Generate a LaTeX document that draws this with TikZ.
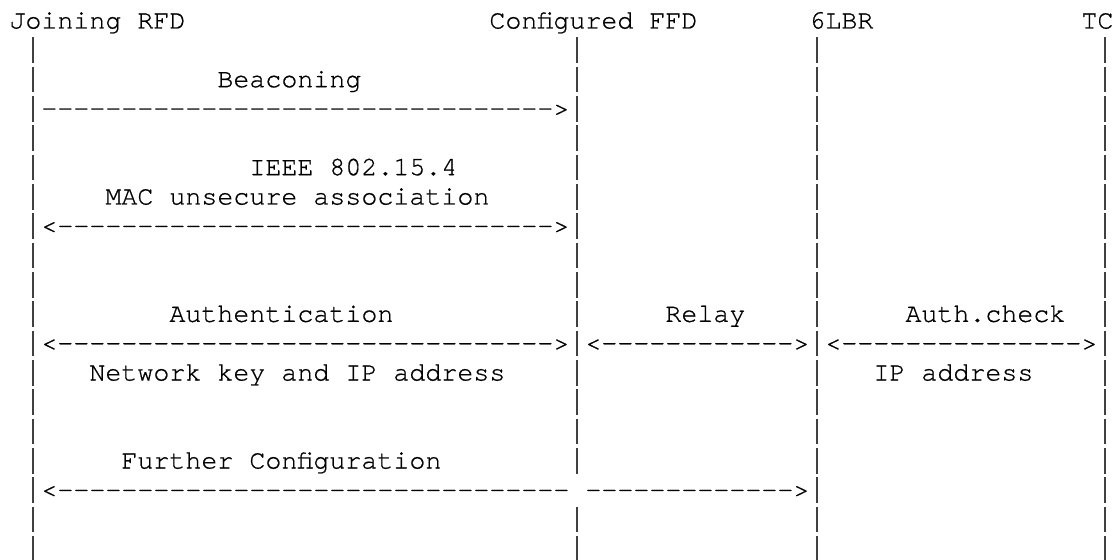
\documentclass[tikz,border=0pt]{standalone}
\usepackage{fontspec}
\setmonofont{TeX Gyre Cursor}[FakeBold=0.7]
\usetikzlibrary{positioning}

% a run of n hyphens
\newcommand\dashes[1]{\ifnum#1>0 -\dashes{\numexpr#1-1\relax}\fi}

\begin{document}
\begin{tikzpicture}[
 x=8pt, y=-14.667pt,
 ascii/.style={anchor=base west, inner sep=0pt, outer sep=0pt,
   font=\ttfamily\fontsize{13.333pt}{14.667pt}\selectfont},
 lifeline/.style={black!75, line width=1pt},
 message/.style={ascii},
 label/.style={ascii},
]
\useasboundingbox (-4.7pt, 14.25pt) rectangle (553.8pt, -265.75pt);

% Participants
\node[ascii] (rfd) at (0, 0) {Joining RFD};
\node[ascii] (ffd) at (30, 0) {Configured FFD};
\node[ascii] (lbr) at (50, 0) {6LBR};
\node[ascii] (tc) at (67, 0) {TC};

% Lifelines, one bar per text row
\foreach \row in {1,...,18}
    \foreach \col in {1,50,68}
        \draw[lifeline] ([yshift=-2.6pt] \col+0.5, \row) -- ([yshift=10.25pt] \col+0.5, \row);
\foreach \row in {1,...,15,17,18}
    \draw[lifeline] ([yshift=-2.6pt] 35.5, \row) -- ([yshift=10.25pt] 35.5, \row);

% Beaconing
\node[label] (beacon) at (13, 2) {Beaconing};
\node[message] (beaconarrow) at (2, 3) {\dashes{32}>};

% Association
\node[label] (ieee) at (15, 5) {IEEE 802.15.4};
\node[label] (assoc) at (6, 6) {MAC unsecure association};
\node[message] (assocarrow) at (2, 7) {<\dashes{31}>};

% Authentication
\node[label] (auth) at (10, 10) {Authentication};
\node[label] (relay) at (41, 10) {Relay};
\node[label] (check) at (56, 10) {Auth.check};
\node[message] (autharrow) at (2, 11) {<\dashes{31}>};
\node[message] (relayarrow) at (36, 11) {<\dashes{12}>};
\node[message] (checkarrow) at (51, 11) {<\dashes{15}>};
\node[label] (netkey) at (5, 12) {Network key and IP address};
\node[label] (ipaddr) at (54, 12) {IP address};

% Further configuration
\node[label] (further) at (7, 15) {Further Configuration};
\node[message] (furtherarrow) at (2, 16) {<\dashes{32}};
\node[message] (furtherarrowend) at (36, 16) {\dashes{13}>};

\end{tikzpicture}
\end{document}
